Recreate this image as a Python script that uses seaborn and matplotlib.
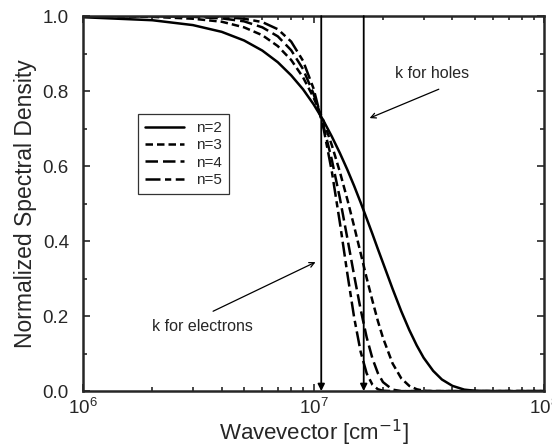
import matplotlib
matplotlib.use("Agg")
import matplotlib.pyplot as plt
import seaborn as sns
import pandas as pd
from matplotlib.ticker import MultipleLocator, LogLocator, NullFormatter, FormatStrFormatter

# wavevector samples [cm^-1]
k = [1e6, 2e6, 3e6, 4e6, 5e6, 6e6, 7e6, 8e6, 9e6, 1.0e7, 1.1e7, 1.2e7, 1.3e7,
     1.4e7, 1.5e7, 1.6e7, 1.7e7, 1.8e7, 1.9e7, 2.0e7, 2.2e7, 2.4e7, 2.6e7,
     2.8e7, 3.0e7, 3.3e7, 3.6e7, 4.0e7, 4.5e7, 5.0e7, 6.0e7, 8.0e7, 1.0e8]

n2 = [0.997, 0.989, 0.976, 0.958, 0.935, 0.908, 0.877, 0.842, 0.805, 0.765,
      0.723, 0.679, 0.635, 0.591, 0.547, 0.503, 0.460, 0.419, 0.379, 0.342,
      0.273, 0.213, 0.163, 0.122, 0.089, 0.054, 0.031, 0.014, 0.004, 0.001,
      0.0, 0.0, 0.0]
n3 = [1.000, 0.998, 0.993, 0.985, 0.970, 0.949, 0.920, 0.883, 0.837, 0.783,
      0.723, 0.656, 0.585, 0.512, 0.439, 0.368, 0.301, 0.241, 0.187, 0.142,
      0.074, 0.034, 0.014, 0.005, 0.001, 0.0, 0.0, 0.0, 0.0, 0.0,
      0.0, 0.0, 0.0]
n4 = [1.000, 1.000, 0.998, 0.994, 0.986, 0.970, 0.946, 0.909, 0.859, 0.793,
      0.711, 0.617, 0.515, 0.409, 0.308, 0.218, 0.143, 0.087, 0.048, 0.024,
      0.004, 0.0, 0.0, 0.0, 0.0, 0.0, 0.0, 0.0, 0.0, 0.0,
      0.0, 0.0, 0.0]
n5 = [1.000, 1.000, 1.000, 0.998, 0.993, 0.984, 0.965, 0.932, 0.881, 0.807,
      0.707, 0.586, 0.450, 0.315, 0.196, 0.105, 0.047, 0.017, 0.005, 0.001,
      0.0, 0.0, 0.0, 0.0, 0.0, 0.0, 0.0, 0.0, 0.0, 0.0,
      0.0, 0.0, 0.0]

labels = ["n=2", "n=3", "n=4", "n=5"]
k_electrons = 1.08e7
k_holes = 1.65e7

sns.set_style("ticks")
plt.rcParams["font.family"] = ["Liberation Sans", "DejaVu Sans"]

fig = plt.figure(figsize=(5.52, 4.47), dpi=100)
ax = fig.add_axes([0.150, 0.125, 0.836, 0.839])

styles = ["-", (0, (3.0, 1.6)), (0, (5.0, 2.0)), (0, (6.0, 1.8, 2.5, 1.8))]
series = [n2, n3, n4, n5]
for lab, vals, ls in zip(labels, series, styles):
    df = pd.DataFrame({"k": k, "S": vals})
    sns.lineplot(data=df, x="k", y="S", ax=ax, color="black", linewidth=1.8,
                 linestyle=ls, label=lab)

ax.set_xscale("log")
ax.set_xlim(1e6, 1e8)
ax.set_ylim(0, 1.0)

# vertical markers with arrowheads at the bottom
for kv in [k_electrons, k_holes]:
    ax.annotate("", xy=(kv, 0.0), xytext=(kv, 1.0),
                arrowprops=dict(arrowstyle="-|>", color="black", lw=1.3,
                                mutation_scale=10, shrinkA=0, shrinkB=0))

ax.annotate("", xy=(1.75e7, 0.728), xytext=(3.49e7, 0.805),
            arrowprops=dict(arrowstyle="->", color="black", lw=0.9,
                            mutation_scale=9, shrinkA=0, shrinkB=0))
ax.text(3.26e7, 0.848, "k for holes", ha="center", va="center", fontsize=11.5)

ax.annotate("", xy=(1.02e7, 0.344), xytext=(3.67e6, 0.213),
            arrowprops=dict(arrowstyle="->", color="black", lw=0.9,
                            mutation_scale=9, shrinkA=0, shrinkB=0))
ax.text(3.29e6, 0.171, "k for electrons", ha="center", va="center", fontsize=11.5)

ax.set_xlabel("Wavevector [cm$^{-1}$]", fontsize=16, labelpad=0)
ax.set_ylabel("Normalized Spectral Density", fontsize=16.5, labelpad=4)

ax.yaxis.set_major_locator(MultipleLocator(0.2))
ax.yaxis.set_minor_locator(MultipleLocator(0.1))
ax.yaxis.set_major_formatter(FormatStrFormatter("%.1f"))
ax.xaxis.set_major_locator(LogLocator(base=10, numticks=5))
ax.xaxis.set_minor_locator(LogLocator(base=10, subs=range(2, 10), numticks=20))
ax.xaxis.set_minor_formatter(NullFormatter())

ax.tick_params(which="both", direction="in", top=True, right=True,
               labelsize=13.5, width=1.2)
ax.tick_params(which="major", length=5)
ax.tick_params(which="minor", length=3)
ax.tick_params(axis="y", which="major", pad=10)
ax.tick_params(axis="x", which="major", pad=5)
for sp in ax.spines.values():
    sp.set_linewidth(1.8)
    sp.set_visible(True)

leg = ax.legend(loc="upper left", bbox_to_anchor=(0.119, 0.739),
                frameon=True, fancybox=False, edgecolor="black",
                fontsize=11, handlelength=2.6, borderpad=0.45,
                labelspacing=0.22, handletextpad=0.8, borderaxespad=0)
leg.get_frame().set_linewidth(0.9)

fig.savefig("out.png", dpi=100)
